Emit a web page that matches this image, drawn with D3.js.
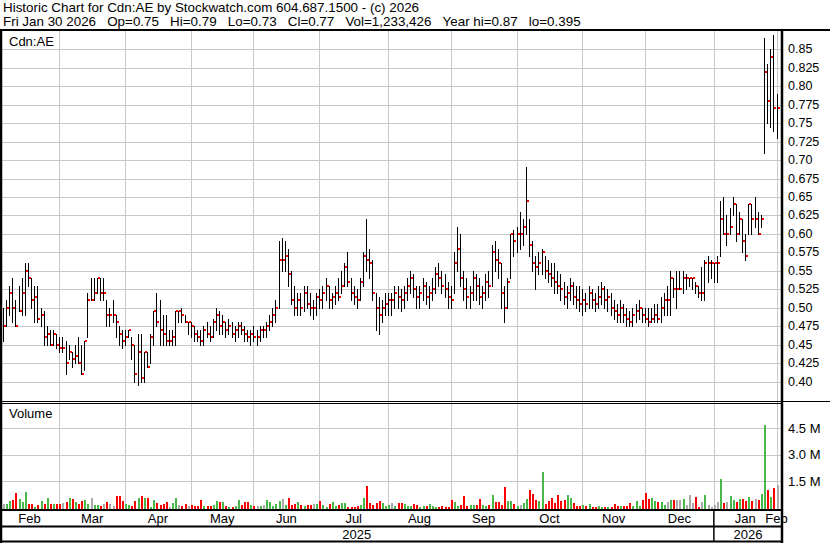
<!DOCTYPE html>
<html><head><meta charset="utf-8">
<script src="https://cdn.jsdelivr.net/npm/d3@7"></script>
<style>
body{margin:0;background:#fff}
svg{display:block}
text{font-family:"Liberation Sans",Arial,sans-serif;fill:#000}
</style></head>
<body><svg id="chart" width="830" height="543"></svg>
<script>
const header1 = "Historic Chart for Cdn:AE by Stockwatch.com 604.687.1500 - (c) 2026";
const header2Fields = ["Fri Jan 30 2026","Op=0.75","Hi=0.79","Lo=0.73","Cl=0.77","Vol=1,233,426","Year hi=0.87","lo=0.395"];
const symbol = "Cdn:AE";

const months = ["Feb","Mar","Apr","May","Jun","Jul","Aug","Sep","Oct","Nov","Dec","Jan","Feb"];
const monthBars = [19,21,21,20,21,22,20,21,21,20,22,20,0];
const years = ["2025","2026"];
const yearMonths = [11,2];

const priceTicks = [0.40,0.425,0.45,0.475,0.50,0.525,0.55,0.575,0.60,0.625,0.65,0.675,0.70,0.725,0.75,0.775,0.80,0.825,0.85];
const priceLabels = ["0.40","0.425","0.45","0.475","0.50","0.525","0.55","0.575","0.60","0.625","0.65","0.675","0.70","0.725","0.75","0.775","0.80","0.825","0.85"];
const volTicks = [1500,3000,4500];
const volLabels = ["1.5 M","3.0 M","4.5 M"];

const high = [
 .50,.51,.53,.54,.51,.53,.54,.56,.56,.54,.53,.53,.50,.495,.475,.47,.47,.465,.46,
 .46,.455,.45,.44,.45,.46,.45,.455,.52,.54,.54,.54,.54,.54,.51,.50,.51,.49,.475,.47,.47,
 .47,.46,.45,.465,.465,.44,.44,.465,.495,.52,.51,.49,.49,.47,.47,.495,.495,.50,.49,.48,.48,
 .475,.47,.47,.475,.48,.475,.485,.50,.495,.49,.48,.485,.48,.475,.48,.48,.475,.47,.47,.475,
 .47,.475,.475,.48,.49,.50,.51,.59,.595,.59,.58,.55,.53,.52,.52,.53,.53,.52,.51,.52,.525,
 .53,.54,.53,.52,.53,.54,.55,.56,.575,.54,.53,.525,.54,.575,.62,.58,.565,.52,.515,.51,.52,.52,
 .52,.53,.53,.525,.53,.54,.55,.545,.53,.53,.54,.535,.53,.54,.555,.56,.55,.545,.535,.53,
 .575,.61,.60,.55,.54,.53,.55,.545,.54,.53,.545,.55,.585,.59,.58,.56,.53,.54,.60,.605,.61,
 .63,.62,.69,.62,.59,.57,.575,.58,.57,.565,.56,.56,.55,.545,.535,.53,.54,.535,.53,.53,.525,
 .52,.53,.525,.52,.53,.535,.53,.525,.52,.51,.505,.51,.505,.50,.495,.50,.505,.51,.50,.50,
 .50,.50,.505,.505,.515,.52,.53,.55,.54,.55,.55,.55,.545,.54,.54,.535,.53,.555,.565,.57,.565,.56,
 .57,.645,.65,.625,.635,.65,.64,.63,.62,.60,.64,.64,.65,.63,.625,.865,.83,.85,.87,.79
];
const low = [
 .455,.475,.49,.48,.475,.495,.49,.49,.53,.50,.48,.48,.475,.45,.45,.45,.45,.445,.44,
 .44,.41,.43,.42,.425,.425,.41,.415,.46,.51,.51,.52,.51,.51,.475,.475,.48,.46,.45,.445,.45,
 .46,.43,.40,.395,.40,.40,.42,.425,.45,.475,.45,.45,.45,.45,.45,.45,.48,.48,.48,.465,.46,
 .455,.455,.45,.45,.46,.455,.46,.47,.465,.465,.46,.465,.46,.455,.46,.465,.455,.455,.45,.455,
 .45,.455,.46,.46,.47,.475,.48,.50,.55,.55,.53,.505,.49,.49,.49,.495,.50,.49,.485,.49,.50,
 .50,.51,.50,.50,.505,.51,.52,.53,.53,.51,.505,.50,.51,.53,.55,.54,.51,.47,.465,.48,.49,.49,
 .49,.50,.50,.495,.50,.51,.52,.515,.50,.50,.51,.505,.50,.51,.52,.53,.52,.515,.50,.50,
 .52,.55,.53,.51,.50,.50,.51,.51,.505,.50,.51,.515,.53,.55,.54,.50,.48,.50,.54,.57,.575,
 .58,.585,.60,.57,.55,.525,.545,.545,.54,.535,.53,.52,.52,.51,.505,.50,.51,.505,.50,.495,.49,
 .495,.50,.50,.495,.50,.505,.50,.495,.49,.485,.48,.48,.48,.475,.475,.475,.48,.485,.48,.48,
 .475,.48,.48,.48,.48,.49,.49,.49,.515,.50,.525,.52,.525,.53,.525,.52,.515,.51,.51,.535,.54,.535,
 .535,.57,.60,.585,.60,.625,.59,.60,.575,.565,.60,.60,.61,.60,.61,.71,.75,.745,.74,.73
];
const close = [
 .475,.50,.52,.50,.475,.495,.52,.55,.54,.51,.515,.485,.49,.46,.465,.45,.465,.45,.445,
 .445,.425,.44,.43,.435,.425,.41,.455,.51,.51,.52,.54,.52,.52,.49,.49,.49,.48,.465,.455,.46,
 .47,.45,.41,.44,.405,.44,.42,.46,.495,.48,.47,.465,.455,.455,.46,.495,.495,.49,.48,.48,.475,
 .465,.46,.455,.47,.465,.46,.48,.49,.475,.48,.47,.475,.465,.47,.475,.47,.465,.46,.465,.46,
 .46,.47,.47,.475,.48,.49,.50,.565,.565,.57,.545,.51,.50,.51,.50,.52,.505,.50,.50,.515,.51,
 .52,.53,.51,.515,.52,.515,.53,.555,.535,.52,.515,.51,.535,.57,.565,.56,.52,.50,.49,.50,.505,.51,
 .51,.52,.515,.51,.52,.53,.54,.525,.515,.52,.53,.515,.52,.525,.545,.54,.53,.525,.515,.51,
 .56,.58,.54,.525,.515,.52,.54,.53,.515,.52,.535,.53,.575,.565,.56,.52,.50,.535,.60,.59,.60,
 .60,.61,.645,.585,.56,.555,.56,.575,.55,.545,.54,.535,.53,.525,.515,.52,.53,.515,.51,.505,.51,
 .505,.52,.51,.505,.515,.525,.51,.515,.50,.495,.49,.50,.49,.485,.48,.49,.495,.50,.49,.485,
 .48,.485,.49,.485,.50,.51,.51,.54,.525,.525,.525,.54,.54,.54,.54,.53,.52,.52,.56,.56,.56,.56,
 .56,.62,.60,.60,.61,.64,.60,.62,.59,.57,.64,.62,.62,.60,.62,.82,.78,.84,.77,.77
];
// volume in thousands of shares
const volume = [
 190,190,320,380,810,430,280,850,190,190,15,90,320,190,510,190,190,190,190,
 240,280,510,430,280,190,320,380,190,510,130,130,50,190,280,190,50,620,620,320,190,
 90,50,320,510,620,510,510,20,380,240,90,190,280,20,240,510,130,50,190,50,90,
 50,50,380,50,50,50,130,360,260,260,30,20,20,70,410,130,260,260,130,70,
 70,30,130,410,260,70,170,320,450,130,510,130,190,260,130,70,130,130,190,190,360,
 130,20,190,260,70,130,220,220,20,20,20,30,130,510,1210,220,130,220,360,220,30,130,
 220,30,220,220,190,70,70,170,130,20,70,70,170,30,20,20,70,20,20,390,
 280,70,130,640,70,130,130,130,470,130,70,130,700,280,280,130,1120,360,360,190,70,
 130,220,470,980,740,410,360,1990,190,360,510,220,700,320,410,700,510,220,70,70,130,
 30,170,20,20,70,20,20,20,20,190,70,70,70,70,220,30,360,70,410,790,
 470,510,320,280,280,130,280,410,380,410,380,470,130,700,220,550,20,280,700,90,15,90,
 280,1610,220,280,640,410,280,470,450,360,600,320,470,410,760,4690,980,600,1080,1233
];

const N = close.length;
const svg = d3.select("#chart");
const px = v => Math.round(v) + 0.5;

const x = d3.scaleLinear().domain([0, N - 1]).range([2.93, 776.5]);
const y = d3.scaleLinear().domain([0.40, 0.85]).range([381.5, 49.4]);
const yv = d3.scaleLinear().domain([0, 4500]).range([507, 428.3]);

const starts = [];
let acc = 0;
monthBars.forEach(n => { starts.push(acc); acc += n; });
const monthEdge = k => k === 0 ? x(-1) : x(starts[k] - 1);
const monthEnd = k => (k + 1 < months.length) ? monthEdge(k + 1) : monthEdge(k);

const GRID = "#c8c8c8";
const grid = svg.append("g");

grid.selectAll("line.vg").data(d3.range(1, months.length)).join("line")
  .attr("x1", k => px(monthEdge(k))).attr("x2", k => px(monthEdge(k)))
  .attr("y1", 31).attr("y2", 509)
  .attr("stroke", GRID).attr("stroke-width", 1);

grid.selectAll("line.pg").data(priceTicks).join("line")
  .attr("x1", 2).attr("x2", 781)
  .attr("y1", d => px(y(d))).attr("y2", d => px(y(d)))
  .attr("stroke", GRID).attr("stroke-width", 1);

grid.selectAll("line.vgl").data(volTicks).join("line")
  .attr("x1", 2).attr("x2", 781)
  .attr("y1", d => px(yv(d))).attr("y2", d => px(yv(d)))
  .attr("stroke", GRID).attr("stroke-width", 1);

const volColor = i => i === 0 ? "#aaaaaa" : (close[i] > close[i-1] ? "#48b848" : (close[i] < close[i-1] ? "#ff0000" : "#aaaaaa"));
svg.append("g").selectAll("rect").data(d3.range(N)).join("rect")
  .attr("x", i => Math.round(x(i)))
  .attr("width", 2)
  .attr("y", i => Math.round(yv(volume[i])))
  .attr("height", i => Math.max(1, 509 - Math.round(yv(volume[i]))))
  .attr("fill", volColor);

svg.append("g").selectAll("line").data(d3.range(N)).join("line")
  .attr("x1", i => px(x(i))).attr("x2", i => px(x(i)))
  .attr("y1", i => Math.round(y(high[i])))
  .attr("y2", i => Math.round(y(low[i])) + 1)
  .attr("stroke", "#000").attr("stroke-width", 1);

svg.append("g").selectAll("rect").data(d3.range(N)).join("rect")
  .attr("x", i => Math.round(x(i)) + 1)
  .attr("y", i => Math.round(y(close[i])) - 1)
  .attr("width", 2).attr("height", 2)
  .attr("fill", "#ff0000");

const frame = svg.append("g").attr("stroke", "#000");
frame.append("line").attr("x1", 0).attr("x2", 830).attr("y1", 30).attr("y2", 30).attr("stroke-width", 2);
frame.append("line").attr("x1", 1).attr("x2", 1).attr("y1", 29).attr("y2", 543).attr("stroke-width", 2.5);
frame.append("line").attr("x1", 782).attr("x2", 782).attr("y1", 29).attr("y2", 543).attr("stroke-width", 2.5);
frame.append("line").attr("x1", 0).attr("x2", 830).attr("y1", 401.5).attr("y2", 401.5).attr("stroke-width", 1);
frame.append("line").attr("x1", 0).attr("x2", 782).attr("y1", 403.5).attr("y2", 403.5).attr("stroke-width", 1);
frame.append("line").attr("x1", 0).attr("x2", 782).attr("y1", 510).attr("y2", 510).attr("stroke-width", 2);
frame.append("line").attr("x1", 0).attr("x2", 782).attr("y1", 526.5).attr("y2", 526.5).attr("stroke-width", 2);
frame.append("line").attr("x1", 0).attr("x2", 782).attr("y1", 541.5).attr("y2", 541.5).attr("stroke-width", 2);
const yearSplit = monthEdge(yearMonths[0]);
frame.append("line").attr("x1", yearSplit).attr("x2", yearSplit).attr("y1", 510).attr("y2", 542).attr("stroke-width", 1.5);

// header lines (runs of spaces kept with non-breaking spaces)
const gap = "\u00a0\u00a0\u00a0";
svg.append("text").attr("x", 3).attr("y", 12).style("font-size", "13.4px").text(header1);
svg.append("text").attr("x", 3).attr("y", 26).style("font-size", "13.4px").text(header2Fields.join(gap));

svg.append("text").attr("x", 9).attr("y", 46).style("font-size", "13px").text(symbol);
svg.append("text").attr("x", 9).attr("y", 417.5).style("font-size", "13px").text("Volume");

const pAxis = d3.axisRight(y).tickValues(priceTicks).tickFormat((d, i) => priceLabels[i]).tickSize(0).tickPadding(6);
const pa = svg.append("g").attr("transform", "translate(782,0)").call(pAxis);
pa.select(".domain").remove();
pa.selectAll("text").attr("dy", null).attr("y", 3.5).style("font-size", "12.5px").style("font-family", "'Liberation Sans',Arial,sans-serif").attr("fill", "#000");

const vAxis = d3.axisRight(yv).tickValues(volTicks).tickFormat((d, i) => volLabels[i]).tickSize(0).tickPadding(6);
const va = svg.append("g").attr("transform", "translate(782,0)").call(vAxis);
va.select(".domain").remove();
va.selectAll("text").attr("dy", null).attr("y", 4.3).style("font-size", "13px").style("font-family", "'Liberation Sans',Arial,sans-serif").attr("fill", "#000");

svg.append("g").selectAll("text").data(months).join("text")
  .attr("x", (d, k) => (monthEdge(k) + monthEnd(k)) / 2)
  .attr("y", 523)
  .attr("text-anchor", "middle")
  .style("font-size", "13px")
  .text(d => d);

let mAcc = 0;
const yearSpans = yearMonths.map(n => { const s = mAcc; mAcc += n; return [s, mAcc]; });
svg.append("g").selectAll("text").data(years).join("text")
  .attr("x", (d, j) => {
    const a = monthEdge(yearSpans[j][0]);
    const b = j === years.length - 1 ? 782 : monthEdge(yearSpans[j][1]);
    return (a + b) / 2;
  })
  .attr("y", 539)
  .attr("text-anchor", "middle")
  .style("font-size", "13px")
  .text(d => d);
</script>
</body></html>
